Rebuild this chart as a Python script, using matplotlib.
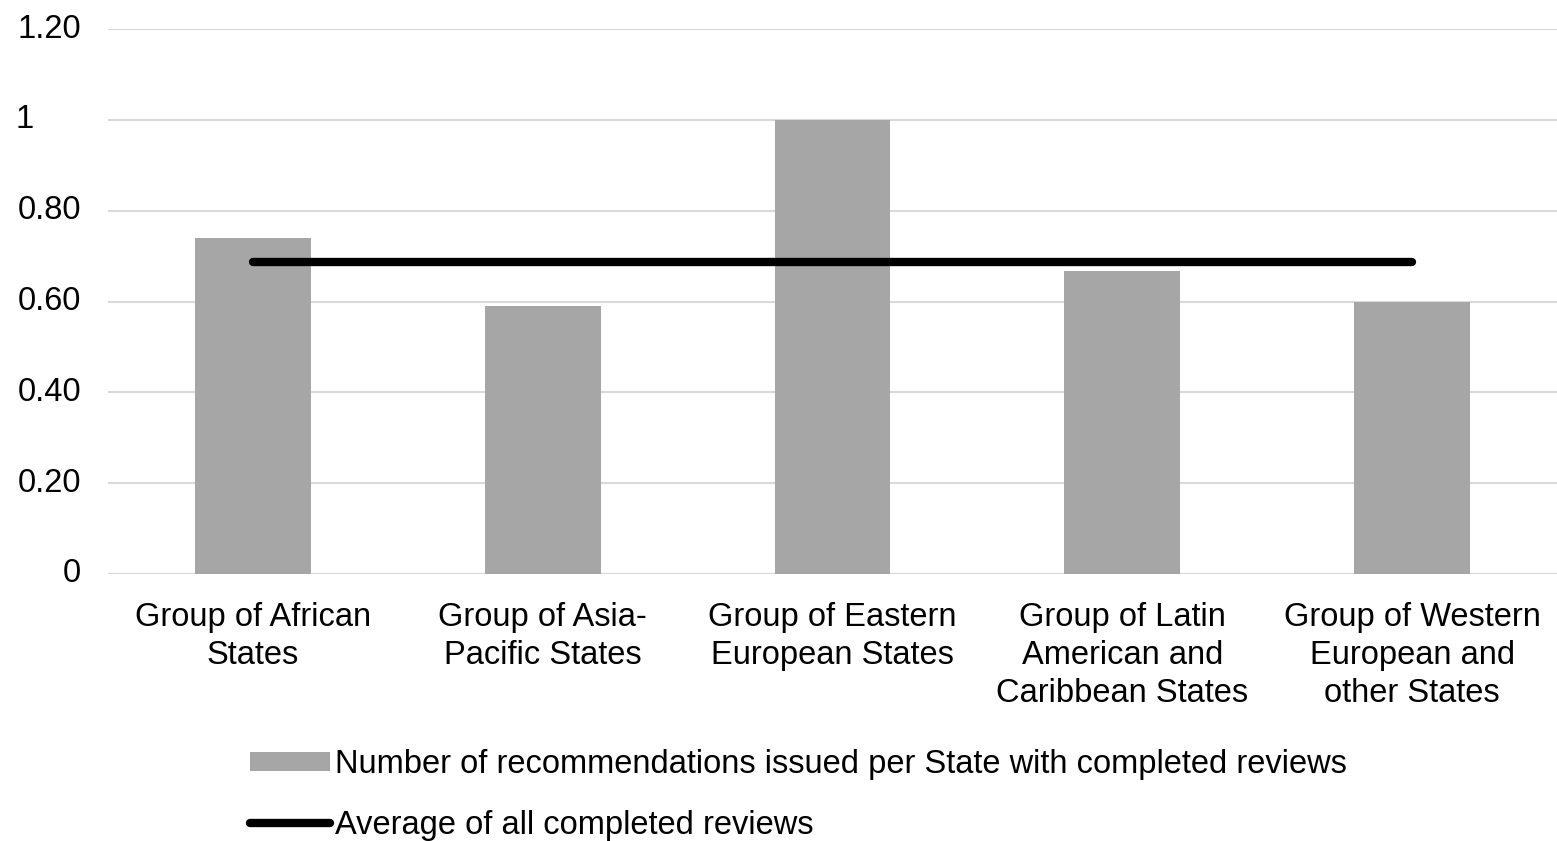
import matplotlib.pyplot as plt
from matplotlib.patches import Patch
from matplotlib.lines import Line2D
from matplotlib.transforms import blended_transform_factory

plt.rcParams['font.family'] = ['Liberation Sans', 'DejaVu Sans']

# Data
groups = ['Group of African\nStates',
          'Group of Asia-\nPacific States',
          'Group of Eastern\nEuropean States',
          'Group of Latin\nAmerican and\nCaribbean States',
          'Group of Western\nEuropean and\nother States']
recs_per_state = [0.74, 0.59, 1.00, 0.667, 0.60]
average_all = 0.686
ytick_vals = [0, 0.2, 0.4, 0.6, 0.8, 1.0, 1.2]
ytick_labels = ['0', '0.20', '0.40', '0.60', '0.80', '1', '1.20']

W, H = 1557, 841
FS = 23.5
fig = plt.figure(figsize=(W / 100, H / 100), dpi=100)
ax = fig.add_axes([108 / W, 1 - 574 / H, 1 - 108 / W, (574 - 29) / H])

x = list(range(len(groups)))
ax.bar(x, recs_per_state, width=0.4, color='#a6a6a6', zorder=2)
ax.plot([x[0], x[-1]], [average_all, average_all], color='black', lw=6,
        solid_capstyle='round', zorder=3)

ax.set_xlim(-0.5, 4.5)
ax.set_ylim(0, 1.2)
ax.set_yticks(ytick_vals)
ax.set_yticklabels([])
ax.grid(axis='y', color='#d9d9d9', lw=1.5, zorder=0)
ax.tick_params(axis='both', length=0)
for s in ax.spines.values():
    s.set_visible(False)
ax.axhline(0, color='#d0d0d0', lw=1.5, zorder=1)

# y labels: right aligned except "1", which sits flush left in the original
trans = blended_transform_factory(fig.transFigure, ax.transData)
for v, lab in zip(ytick_vals, ytick_labels):
    if lab == '1':
        fig.text(16 / W, v, lab, fontsize=FS, ha='left', va='center', transform=trans)
    else:
        fig.text(81 / W, v, lab, fontsize=FS, ha='right', va='center', transform=trans)

ax.set_xticks(x)
ax.set_xticklabels(groups, fontsize=FS, linespacing=1.3)
ax.tick_params(axis='x', pad=20)

handles = [Patch(facecolor='#a6a6a6', edgecolor='none'),
           Line2D([0], [0], color='black', lw=6, solid_capstyle='round')]
labels = ['Number of recommendations issued per State with completed reviews',
          'Average of all completed reviews']
fig.legend(handles, labels, loc='upper left', bbox_to_anchor=(250 / W, 1 - 749 / H),
           frameon=False, fontsize=FS, handlelength=2.45, handleheight=0.55,
           handletextpad=0.15, labelspacing=0.92, borderpad=0, borderaxespad=0)

fig.savefig('out.png', dpi=100)
